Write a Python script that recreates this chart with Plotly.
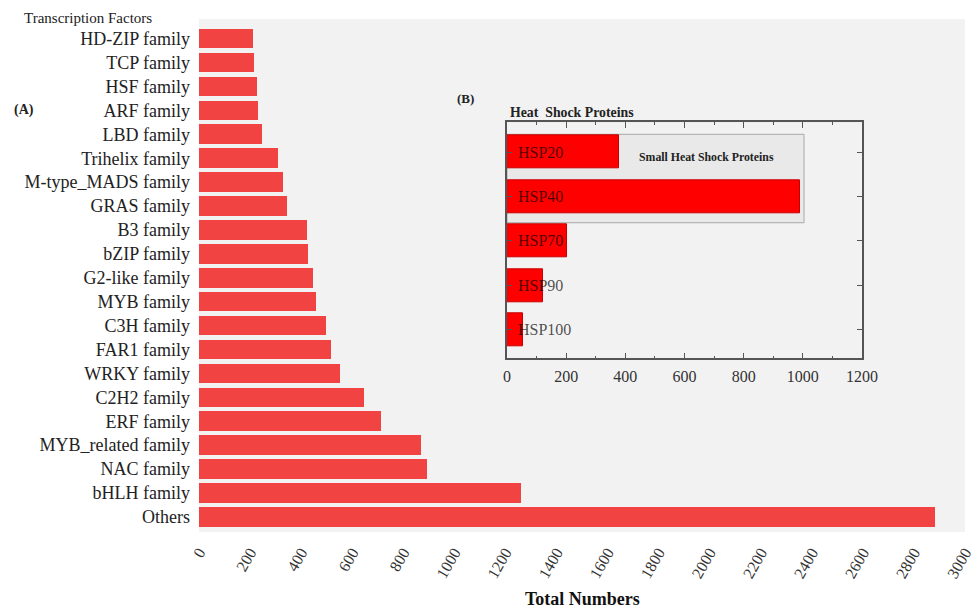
import plotly.graph_objects as go

# Transcription factor families, listed top to bottom as displayed
tf_families = [
    "HD-ZIP family", "TCP family", "HSF family", "ARF family", "LBD family",
    "Trihelix family", "M-type_MADS family", "GRAS family", "B3 family",
    "bZIP family", "G2-like family", "MYB family", "C3H family", "FAR1 family",
    "WRKY family", "C2H2 family", "ERF family", "MYB_related family",
    "NAC family", "bHLH family", "Others",
]
tf_counts = [
    210, 215, 228, 232, 247, 309, 329, 346, 423, 427, 445, 458, 496, 517,
    552, 648, 713, 870, 893, 1260, 2883,
]

# Heat shock protein classes, top to bottom
hsp_classes = ["HSP20", "HSP40", "HSP70", "HSP90", "HSP100"]
hsp_counts = [380, 990, 202, 122, 54]

main_ticks = list(range(0, 3001, 200))
inset_ticks = list(range(0, 1201, 200))

SERIF = "Liberation Serif, Times New Roman, serif"

fig = go.Figure()

fig.add_trace(go.Bar(
    x=tf_counts, y=tf_families, orientation="h",
    marker=dict(color="#F24343", line=dict(width=0)),
    width=0.82, xaxis="x", yaxis="y", showlegend=False,
))

fig.add_trace(go.Bar(
    x=hsp_counts, y=hsp_classes, orientation="h",
    marker=dict(color="#FF0000", line=dict(color="#C80000", width=1)),
    width=0.74, xaxis="x2", yaxis="y2", showlegend=False,
))

# class names written inside the inset, just right of its left axis
hsp_labels = [
    dict(text=name, x=0, y=name, xref="x2", yref="y2",
         xanchor="left", yanchor="middle", xshift=9, showarrow=False,
         font=dict(size=16, color="rgba(0,0,0,0.7)"))
    for name in hsp_classes
]

fig.update_layout(
    width=977, height=609,
    margin=dict(l=0, r=0, t=0, b=0, autoexpand=False),
    paper_bgcolor="white",
    plot_bgcolor="#F2F2F2",
    font=dict(family=SERIF, color="#222222"),
    bargap=0,
    xaxis=dict(
        domain=[199 / 977, 965 / 977], range=[0, 3000], automargin=False,
        tickvals=main_ticks, ticktext=[str(v) for v in main_ticks],
        tickangle=-60, tickfont=dict(size=16, color="#333333"),
        showgrid=False, zeroline=False, showline=False, ticks="",
        ticklabelstandoff=7,
    ),
    yaxis=dict(
        domain=[(609 - 532) / 609, (609 - 19) / 609], automargin=False,
        type="category", categoryorder="array",
        categoryarray=list(reversed(tf_families)),
        range=[-0.63, 20.82],
        tickfont=dict(size=18, color="#222222"),
        showgrid=False, zeroline=False, showline=False, ticks="",
        ticklabelstandoff=8,
    ),
    xaxis2=dict(
        domain=[507 / 977, 862 / 977], range=[0, 1200], anchor="y2",
        automargin=False,
        tickvals=inset_ticks, tickfont=dict(size=16, color="#333333"),
        ticklabelstandoff=3,
        showgrid=False, zeroline=False,
        showline=True, linecolor="#555555", linewidth=1.5, mirror="ticks",
        ticks="inside", ticklen=6, tickcolor="#555555",
        minor=dict(ticks="inside", dtick=100, ticklen=3, tickcolor="#555555"),
    ),
    yaxis2=dict(
        domain=[(609 - 358.3) / 609, (609 - 122.3) / 609], anchor="x2",
        automargin=False,
        type="category", categoryorder="array",
        categoryarray=list(reversed(hsp_classes)),
        range=[-0.64, 4.67],
        showticklabels=False,
        showgrid=False, zeroline=False,
        showline=True, linecolor="#555555", linewidth=1.5, mirror="ticks",
        ticks="inside", ticklen=5, tickcolor="#555555",
    ),
    shapes=[
        # inset background
        dict(type="rect", xref="x2 domain", yref="y2 domain",
             x0=0, x1=1, y0=0, y1=1, fillcolor="#E4E4E4",
             line=dict(width=0), layer="below"),
        # box around the small heat shock protein rows
        dict(type="rect", xref="x2", yref="y2",
             x0=0, x1=1004, y0=2.41, y1=4.4, fillcolor="#E9E9E9",
             line=dict(color="#A8A8A8", width=1), layer="below"),
    ],
    annotations=hsp_labels + [
        dict(text="Transcription Factors", x=22 / 977, y=(609 - 18) / 609,
             xref="paper", yref="paper", xanchor="left", yanchor="middle",
             showarrow=False, font=dict(size=15, color="#222222")),
        dict(text="<b>(A)</b>", x=12 / 977, y=(609 - 110) / 609,
             xref="paper", yref="paper", xanchor="left", yanchor="middle",
             showarrow=False, font=dict(size=14, color="#222222")),
        dict(text="<b>(B)</b>", x=455 / 977, y=(609 - 98) / 609,
             xref="paper", yref="paper", xanchor="left", yanchor="middle",
             showarrow=False, font=dict(size=13, color="#222222")),
        dict(text="<b>Heat  Shock Proteins</b>", x=508 / 977, y=(609 - 112) / 609,
             xref="paper", yref="paper", xanchor="left", yanchor="middle",
             showarrow=False, font=dict(size=13.8, color="#222222")),
        dict(text="<b>Small Heat Shock Proteins</b>", x=706 / 977, y=(609 - 157) / 609,
             xref="paper", yref="paper", xanchor="center", yanchor="middle",
             showarrow=False, font=dict(size=11.8, color="#222222")),
        dict(text="<b>Total Numbers</b>", x=582 / 977, y=(609 - 599) / 609,
             xref="paper", yref="paper", xanchor="center", yanchor="middle",
             showarrow=False, font=dict(size=18, color="#111111")),
    ],
)

fig.write_html("out.html")
